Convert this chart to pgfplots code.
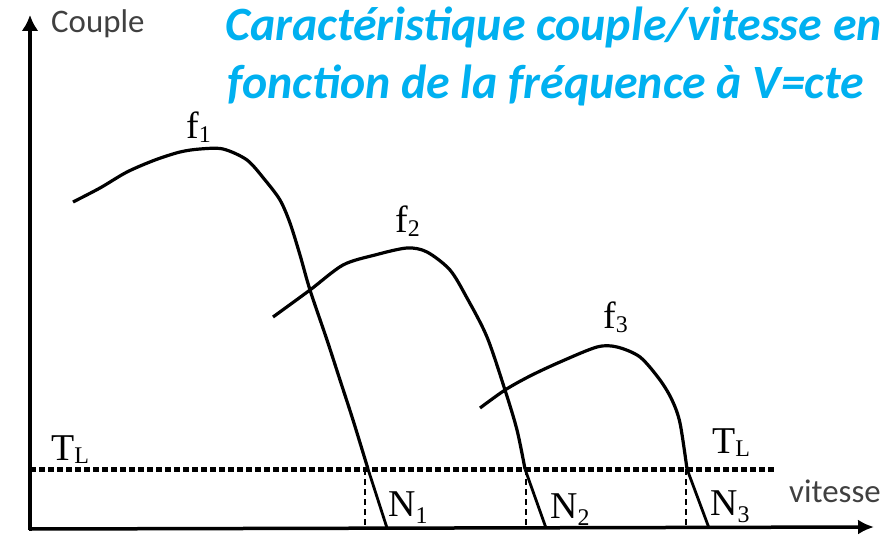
\documentclass[border=0pt]{standalone}
\usepackage{pgfplots}
\pgfplotsset{compat=1.18}
\usepackage{fontspec}
\setmainfont{Liberation Serif}
\newfontfamily\calibri{Carlito}
\usetikzlibrary{arrows.meta}
\definecolor{titlecyan}{HTML}{00B0F0}
\definecolor{labelgray}{HTML}{404040}
% subscript with adjustable drop
\newcommand\sub[2][4bp]{\raisebox{-#1}{\fontsize{24}{24}\selectfont #2}}
\tikzset{lbl/.style={anchor=base west, inner sep=0, font=\fontsize{38}{38}\selectfont}}

\begin{document}
\begin{tikzpicture}
\begin{axis}[
  hide axis, scale only axis,
  width=894bp, height=536bp,
  xmin=0, xmax=894, ymin=0, ymax=536,
  y dir=reverse, clip=false,
]
% frame extent
\addplot[draw=none] coordinates {(0,0) (894,536)};

% axes
\addplot[line width=3.5bp, -{Latex[length=16bp,width=17bp]}] coordinates {(30,530) (30,15)};
\addplot[line width=3.5bp, -{Latex[length=16bp,width=15bp]}] coordinates {(29,529) (874,527)};

% load torque T_L
\addplot[line width=5bp, dash pattern=on 6bp off 3bp] coordinates {(30,469) (776,469)};

% torque/speed curves for f1, f2, f3
\addplot[line width=3.2bp, smooth, tension=0.5] coordinates {
  (73,202) (100,188) (127,172) (155,160) (180,152) (200,149) (223,149)
  (247,160) (265,180) (280,200) (290,223) (300,255) (310,290) (327,340)
  (340,380) (353,420) (368,469)};
\addplot[line width=2.8bp] coordinates {(368,469) (387,528)};
\addplot[line width=2.2bp, dash pattern=on 6bp off 4bp] coordinates {(365,469) (365,528)};

\addplot[line width=3.2bp, smooth, tension=0.5] coordinates {
  (273,317) (310,290) (343,265) (375,255) (407,248) (427,252) (450,270)
  (467,298) (487,337) (505,390) (517,430) (525,469)};
\addplot[line width=2.8bp] coordinates {(525,469) (546,528)};
\addplot[line width=2.2bp, dash pattern=on 6bp off 4bp] coordinates {(526,469) (526,528)};

\addplot[line width=3.2bp, smooth, tension=0.5] coordinates {
  (480,408) (505,390) (530,376) (560,362) (597,347) (617,347) (640,357)
  (660,380) (672,400) (680,423) (687,469)};
\addplot[line width=2.8bp] coordinates {(687,469) (709,528)};
\addplot[line width=2.2bp, dash pattern=on 6bp off 4bp] coordinates {(686,469) (686,528)};

% labels
\node[anchor=base west, inner sep=0, text=labelgray, font=\calibri\fontsize{33}{33}\selectfont] at (axis cs:51,33) {Couple};
\node[anchor=base west, inner sep=0, text=labelgray, font=\calibri\fontsize{33}{33}\selectfont] at (axis cs:789,502) {vitesse};

\node[anchor=base west, inner sep=0, text=titlecyan, font=\calibri\bfseries\itshape\fontsize{48}{48}\selectfont] at (axis cs:225,41) {Caractéristique couple/vitesse en};
\node[anchor=base west, inner sep=0, text=titlecyan, font=\calibri\bfseries\itshape\fontsize{48}{48}\selectfont] at (axis cs:227,98) {fonction de la fréquence à V=cte};

\node[lbl] at (axis cs:186,138) {f\sub{1}};
\node[lbl] at (axis cs:395,232) {f\sub{2}};
\node[lbl] at (axis cs:603,328) {f\sub{3}};

\node[lbl] at (axis cs:51,460) {T\sub[3bp]{L}};
\node[lbl] at (axis cs:712,453) {T\sub[3bp]{L}};

\node[lbl] at (axis cs:388,516) {N\sub[7bp]{1}};
\node[lbl] at (axis cs:550,518) {N\sub[7bp]{2}};
\node[lbl] at (axis cs:710,515) {N\sub[7bp]{3}};
\end{axis}
\end{tikzpicture}
\end{document}
